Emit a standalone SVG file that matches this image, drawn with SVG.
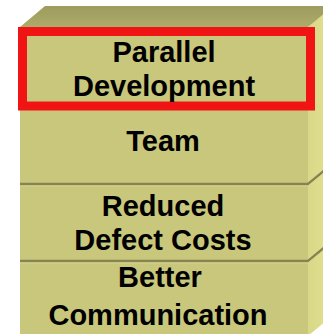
<svg xmlns="http://www.w3.org/2000/svg" width="323" height="334" viewBox="0 0 323 334">
  <defs>
    <linearGradient id="topGrad" x1="0" y1="0" x2="0" y2="1">
      <stop offset="0" stop-color="#9d9b5e"/>
      <stop offset="1" stop-color="#aeac6a"/>
    </linearGradient>
    <linearGradient id="sideGrad" x1="0" y1="0" x2="1" y2="0">
      <stop offset="0" stop-color="#d9d888"/>
      <stop offset="1" stop-color="#e3e291"/>
    </linearGradient>
  </defs>
  <style>
    .label { font-family: "Liberation Sans", Arial, sans-serif; font-weight: bold; font-size: 29px; fill: #000; text-anchor: middle; }
    .sep { fill: none; stroke: #868450; stroke-width: 2.4; }
    .hl { fill: none; stroke: #d6d48e; stroke-width: 1; }
  </style>
  <rect x="0" y="0" width="323" height="334" fill="#ffffff"/>
  <g id="box">
    <polygon points="20,27 45,6 340,6 308,27" fill="url(#topGrad)"/>
    <polygon points="308,27 333,6 333,315 308,336" fill="url(#sideGrad)"/>
    <rect x="20" y="27" width="288" height="309" fill="#c9c77c"/>
  </g>
  <g id="sep-team-reduced">
    <polyline class="sep" points="20,184 308,184 325,170"/>
    <polyline class="hl" points="20,186 308,186 325,172"/>
  </g>
  <g id="sep-reduced-better">
    <polyline class="sep" points="20,261 308,261 325,247"/>
    <polyline class="hl" points="20,263 308,263 325,249"/>
  </g>
  <g id="node-parallel">
    <rect x="22.5" y="31.5" width="288" height="74.5" fill="none" stroke="#f01414" stroke-width="9"/>
    <text class="label" x="164" y="62">Parallel</text>
    <text class="label" x="164" y="96">Development</text>
  </g>
  <g id="node-team">
    <text class="label" x="163" y="151">Team</text>
  </g>
  <g id="node-reduced">
    <text class="label" x="163" y="216">Reduced</text>
    <text class="label" x="163" y="250">Defect Costs</text>
  </g>
  <g id="node-better">
    <text class="label" x="160" y="287">Better</text>
    <text class="label" x="158" y="325">Communication</text>
  </g>
</svg>
